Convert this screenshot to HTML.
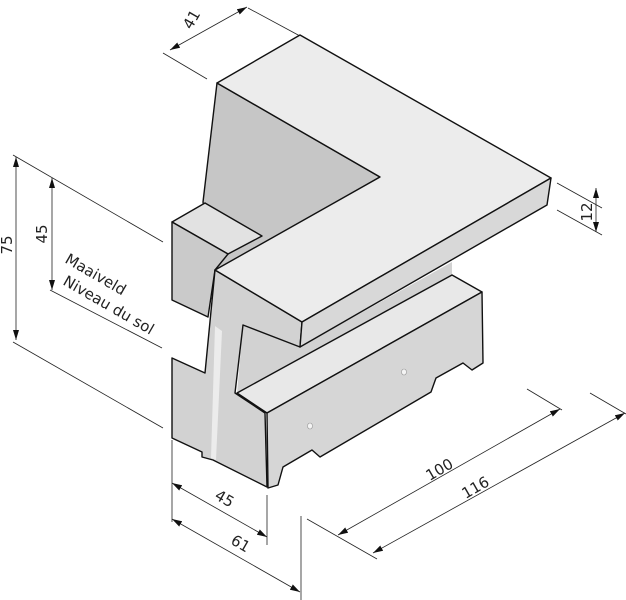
<!DOCTYPE html>
<html><head><style>
html,body{margin:0;padding:0;background:#fff;}
svg{display:block;}
text{font-family:"DejaVu Sans","Liberation Sans",sans-serif;fill:#222;}
</style></head><body>
<svg width="626" height="600" viewBox="0 0 626 600" xmlns="http://www.w3.org/2000/svg">
<defs>
<marker id="a" markerWidth="10" markerHeight="6" refX="10" refY="3" orient="auto-start-reverse" markerUnits="userSpaceOnUse"><path d="M0,0 L10,3 L0,6 Z" fill="#111"/></marker>
</defs>
<g stroke="#222" stroke-width="0.8" fill="none">
<line x1="163" y1="53" x2="207" y2="79"/>
<line x1="248" y1="8" x2="300" y2="36"/>
<line x1="170" y1="50" x2="247" y2="7" marker-start="url(#a)" marker-end="url(#a)"/>
<line x1="557" y1="183" x2="602" y2="208"/>
<line x1="557" y1="210" x2="602" y2="235"/>
<line x1="596" y1="188" x2="596" y2="232" marker-start="url(#a)" marker-end="url(#a)"/>
<line x1="13" y1="155" x2="163" y2="242"/>
<line x1="13" y1="342" x2="163" y2="428"/>
<line x1="50" y1="290" x2="162" y2="348"/>
<line x1="16" y1="157" x2="16" y2="340" marker-start="url(#a)" marker-end="url(#a)"/>
<line x1="52" y1="178" x2="52" y2="290" marker-start="url(#a)" marker-end="url(#a)"/>
<line x1="172" y1="440" x2="172" y2="522"/>
<line x1="267" y1="495" x2="267" y2="545"/>
<line x1="301" y1="516" x2="301" y2="600"/>
<line x1="172" y1="483" x2="267" y2="537" marker-start="url(#a)" marker-end="url(#a)"/>
<line x1="172" y1="519" x2="300" y2="592" marker-start="url(#a)" marker-end="url(#a)"/>
<line x1="307" y1="519" x2="377" y2="559"/>
<line x1="527" y1="389" x2="562" y2="410"/>
<line x1="590" y1="393" x2="626" y2="414"/>
<line x1="338" y1="535" x2="560" y2="409" marker-start="url(#a)" marker-end="url(#a)"/>
<line x1="373" y1="553" x2="625" y2="413" marker-start="url(#a)" marker-end="url(#a)"/>
</g>
<g font-size="15">
<text transform="translate(196,22) rotate(-60)" text-anchor="middle">41</text>
<text transform="translate(592,212) rotate(-90)" text-anchor="middle">12</text>
<text transform="translate(12,245) rotate(-90)" text-anchor="middle">75</text>
<text transform="translate(47,234) rotate(-90)" text-anchor="middle">45</text>
<text transform="translate(64,262) rotate(30)">Maaiveld</text>
<text transform="translate(62,284) rotate(30)">Niveau du sol</text>
<text transform="translate(222,503) rotate(30)" text-anchor="middle">45</text>
<text transform="translate(238,548) rotate(30)" text-anchor="middle">61</text>
<text transform="translate(442,474) rotate(-30)" text-anchor="middle">100</text>
<text transform="translate(478,492) rotate(-30)" text-anchor="middle">116</text>
</g>
<g stroke="#111" stroke-width="1.4" stroke-linejoin="round">
<!-- back wall front face -->
<polygon points="217,83 380,177 215,272 203,202" fill="#c6c6c6"/>
<!-- step top -->
<polygon points="172,222 205,203 262,236 228,254" fill="#e2e2e2"/>
<!-- step end face -->
<polygon points="172,222 228,254 215,270 208,317 172,300" fill="#cacaca"/>
<!-- inner wall face under slab -->
<polygon points="243,325 300,347 452,262 452,275 237,393" fill="#d2d2d2" stroke="none"/>
<!-- lower block top -->
<polygon points="237,393 267,413 482,292 452,275" fill="#e8e8e8"/>
<!-- lower long face -->
<polygon points="267,413 482,292 483,363 472,370 463,363 436,378 431,392 320,457 312,450 283,467 278,485 268,488" fill="#d6d6d6"/>
<!-- end face profile -->
<polygon points="215,270 302,322 300,347 243,325 235,393 265,413 267,487 213,460 202,457 202,452 172,438 172,358 205,373" fill="#d2d2d2"/>
<!-- slab top -->
<polygon points="217,83 300,35 551,178 302,322 215,270 380,177" fill="#ececec"/>
<!-- slab front -->
<polygon points="302,322 551,178 547,205 300,347" fill="#d8d8d8"/>
</g>
<polygon points="215,326 222,331 216,460 211,458" fill="#ececec"/>
<ellipse cx="404" cy="372" rx="2.5" ry="3" fill="#f4f4f4" stroke="#999" stroke-width="0.6"/>
<ellipse cx="310" cy="426" rx="2.5" ry="3" fill="#f4f4f4" stroke="#999" stroke-width="0.6"/>
</svg>
</body></html>
